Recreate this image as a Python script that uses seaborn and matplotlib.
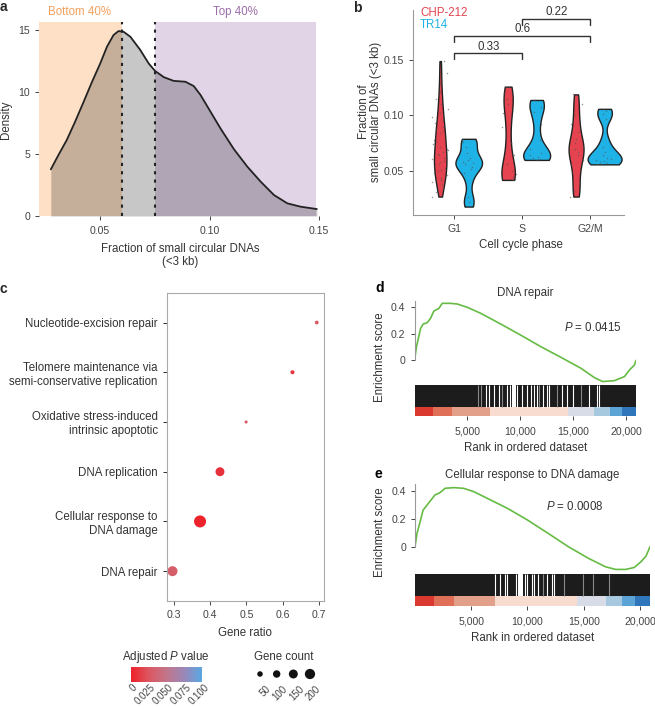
import numpy as np
import pandas as pd
import seaborn as sns
import matplotlib.pyplot as plt
from matplotlib.colors import LinearSegmentedColormap, Normalize
from matplotlib.cm import ScalarMappable

sns.set_theme(style="ticks")
plt.rcParams['font.family'] = ['Liberation Sans', 'DejaVu Sans']
plt.rcParams['mathtext.fontset'] = 'custom'
plt.rcParams['mathtext.it'] = 'Liberation Sans:italic'
plt.rcParams['mathtext.rm'] = 'Liberation Sans'

# ---- panel a: density of small circular DNA fraction
dens_x = [0.0274, 0.0309, 0.0347, 0.0385, 0.0424, 0.0462, 0.0500, 0.0531, 0.0561,
          0.0584, 0.0607, 0.0638, 0.0683, 0.0722, 0.0751, 0.0791, 0.0836, 0.0890,
          0.0928, 0.0959, 0.1005, 0.1050, 0.1112, 0.1173, 0.1234, 0.1295, 0.1356,
          0.1417, 0.1491]
dens_y = [3.76, 4.92, 6.13, 7.6, 9.2, 10.8, 12.3, 13.66, 14.6,
          14.92, 14.86, 14.46, 13.4, 12.3, 11.7, 11.2, 10.9, 10.83,
          10.48, 9.76, 8.4, 7.07, 5.38, 3.98, 2.77, 1.69, 1.02,
          0.75, 0.56]
q_bottom = 0.0601   # 40th percentile
q_top = 0.0751      # 60th percentile
range_lo, range_hi = 0.022, 0.1487

# ---- panel b: violins per cell cycle phase
phases = ["G1", "S", "G2/M"]
lines = ["CHP-212", "TR14"]
chp_g1 = [0.027, 0.031, 0.035, 0.038, 0.040, 0.042, 0.044, 0.046, 0.048, 0.050, 0.051,
          0.053, 0.054, 0.056, 0.058, 0.059, 0.061, 0.062, 0.064, 0.065, 0.067, 0.069,
          0.070, 0.072, 0.074, 0.076, 0.078, 0.080, 0.082, 0.084, 0.086, 0.088, 0.090,
          0.093, 0.096, 0.099, 0.102, 0.106, 0.110, 0.115, 0.121, 0.128, 0.138, 0.149]
tr14_g1 = [0.018, 0.022, 0.027, 0.040, 0.048, 0.052, 0.054, 0.056, 0.057, 0.058, 0.060,
           0.062, 0.066, 0.072, 0.076, 0.078, 0.079]
chp_s = [0.042, 0.043, 0.045, 0.047, 0.050, 0.056, 0.064, 0.075, 0.090, 0.102, 0.110,
         0.115, 0.120, 0.126]
tr14_s = [0.060, 0.061, 0.062, 0.063, 0.064, 0.066, 0.070, 0.078, 0.092, 0.103, 0.108,
          0.112, 0.114]
chp_g2m = [0.027, 0.032, 0.040, 0.048, 0.055, 0.060, 0.064, 0.067, 0.070, 0.072, 0.075,
           0.079, 0.085, 0.092, 0.100, 0.110, 0.119]
tr14_g2m = [0.056, 0.057, 0.058, 0.059, 0.060, 0.061, 0.062, 0.064, 0.067, 0.072, 0.079,
            0.097, 0.101, 0.104, 0.106]
bracket_pairs = [(0, 1), (0, 2), (1, 2)]
bracket_y = [0.156, 0.172, 0.187]
bracket_labels = ["0.33", "0.6", "0.22"]

# ---- panel c: enrichment dot plot
terms = ["Nucleotide-excision repair",
         "Telomere maintenance via\nsemi-conservative replication",
         "Oxidative stress-induced\nintrinsic apoptotic",
         "DNA replication",
         "Cellular response to\nDNA damage",
         "DNA repair"]
gene_ratio = [0.694, 0.627, 0.499, 0.427, 0.372, 0.296]
gene_count = [17, 22, 8, 150, 280, 190]
padj = [0.025, 0.010, 0.028, 0.008, 0.002, 0.032]
legend_counts = [50, 100, 150, 200]
cbar_ticks = [0, 0.025, 0.05, 0.075, 0.1]
cbar_labels = ["0", "0.025", "0.050", "0.075", "0.100"]

# ---- panels d, e: GSEA running enrichment score
d_rank = [0, 189, 568, 820, 1199, 1514, 1830, 2300, 2617, 3405, 4036, 4982, 6244, 8137,
          10029, 11922, 13815, 15707, 16969, 17757, 18861, 19808, 20281, 20754, 20900]
d_es = [0, 0.103, 0.24, 0.274, 0.284, 0.317, 0.372, 0.392, 0.43, 0.43, 0.425, 0.40, 0.355,
        0.274, 0.19, 0.103, 0.023, -0.06, -0.13, -0.16, -0.153, -0.123, -0.073, -0.035, 0]
d_gaps = [6730, 7043, 7486, 7990, 8684, 9000, 9691, 10102, 10575, 10954, 11269, 11522,
          12089, 12468, 12720, 13886, 14422, 14989, 16502, 17195, 17384]
d_faint = [6003, 6228, 8211, 11774, 13413, 15682]
d_wide = [(9156, 9565)]
e_rank = [0, 180, 420, 721, 1081, 1472, 1773, 2223, 2674, 3425, 4326, 5227, 6429, 8232,
          10034, 11837, 13640, 15442, 16944, 17845, 18747, 19498, 20099, 20550, 20900]
e_es = [0, 0.096, 0.168, 0.263, 0.30, 0.34, 0.371, 0.388, 0.419, 0.424, 0.419, 0.395,
        0.347, 0.275, 0.19, 0.096, 0, -0.084, -0.144, -0.163, -0.163, -0.149, -0.108,
        -0.067, 0]
e_gaps = [7131, 7575, 8019, 8226, 8996, 9796, 10000, 10391, 10595, 10977, 11724, 12167,
          12373]
e_faint = [11421, 13261, 14920, 15808, 17283]
e_wide = [(9201, 9591)]
n_genes = 20900
strip_edges = [0, 1700, 3500, 7100, 14450, 16970, 18420, 19590, 20900]
strip_colors = ["#d9392f", "#df6f57", "#e2a08a", "#f7dccf", "#d7dce6", "#a6c9df",
                "#5ba4d5", "#2f77ba"]

W, H = 655, 709
fig = plt.figure(figsize=(W / 100, H / 100), dpi=100)


def px_axes(l, t, r, b):
    return fig.add_axes([l / W, 1 - b / H, (r - l) / W, (b - t) / H])


def px_text(x, y, s, **kw):
    fig.text(x / W, 1 - y / H, s, **kw)


TXT = "#333333"
FS = 8.3
TICK = dict(labelsize=7.6, colors="#444444", length=3, width=0.7)

# ================= a =================
ax = px_axes(39, 22, 321, 216)
ax.axvspan(range_lo, q_bottom, color="#fde0c6", lw=0)
ax.axvspan(q_top, range_hi, color="#e2d4e7", lw=0)
ax.fill_between(dens_x, dens_y, color="black", alpha=0.22, lw=0)
sns.lineplot(x=dens_x, y=dens_y, color="#222222", lw=1.3, ax=ax)
for q in [q_bottom, q_top]:
    ax.axvline(q, color="#222222", ls=(0, (1.5, 2.5)), lw=1.5)
ax.set_xlim(0.022, 0.151)
ax.set_ylim(0, 15.65)
ax.set_xticks([0.05, 0.10, 0.15])
ax.set_xticklabels(["0.05", "0.10", "0.15"])
ax.set_yticks([0, 5, 10, 15])
ax.tick_params(**TICK)
ax.tick_params(axis="x", pad=4)
sns.despine(ax=ax, left=True, bottom=True)
ax.set_xlabel("Fraction of small circular DNAs\n(<3 kb)", fontsize=FS, color=TXT, labelpad=5)
px_text(6, 120, "Density", rotation=90, ha="center", va="center", fontsize=FS, color=TXT)
px_text(80, 12, "Bottom 40%", ha="center", va="center", fontsize=FS, color="#f3a05c")
px_text(235, 12, "Top 40%", ha="center", va="center", fontsize=FS, color="#9b6ea9")

# ================= b =================
groups = [chp_g1, tr14_g1, chp_s, tr14_s, chp_g2m, tr14_g2m]
rows = []
for gi, vals in enumerate(groups):
    for v in vals:
        rows.append((phases[gi // 2], lines[gi % 2], v))
df_b = pd.DataFrame(rows, columns=["phase", "line", "frac"])
dodge_off = {"CHP-212": -0.21, "TR14": 0.21}
df_b["pos"] = df_b["phase"].map(phases.index) + df_b["line"].map(dodge_off)

ax = px_axes(412.7, 10, 624.3, 215)
pal_b = {"CHP-212": "#e4434f", "TR14": "#1fb2e6"}
# each cell line drawn on its own so the two lines keep their own area scaling
for ln, w in zip(lines, [0.22, 0.5]):
    sns.violinplot(data=df_b[df_b["line"] == ln], x="pos", y="frac", native_scale=True,
                   orient="x", color=pal_b[ln], cut=0, inner=None, width=w,
                   bw_adjust=0.6, density_norm="area", linewidth=1, linecolor="#222222",
                   saturation=1, ax=ax)
sns.stripplot(data=df_b, x="pos", y="frac", native_scale=True, orient="x",
              color="#555555", jitter=0.3, size=1.1, alpha=0.6, ax=ax)
for (i, j), yb, lab in zip(bracket_pairs, bracket_y, bracket_labels):
    ax.plot([i, i, j, j], [yb - 0.0055, yb, yb, yb - 0.0055], color="#333333", lw=1)
    ax.text((i + j) / 2, yb + 0.006, lab, ha="center", va="center", fontsize=FS, color=TXT)
ax.set_xlim(-0.615, 2.5)
ax.set_ylim(0.0104, 0.195)
ax.set_xticks([0, 1, 2])
ax.set_xticklabels(phases)
ax.set_yticks([0.05, 0.10, 0.15])
ax.set_yticklabels(["0.05", "0.10", "0.15"])
ax.tick_params(**TICK)
for s in ["left", "bottom"]:
    ax.spines[s].set_color("#999999")
    ax.spines[s].set_linewidth(0.8)
sns.despine(ax=ax)
ax.set_xlabel("")
ax.set_ylabel("")
ax.text(0.035, 0.985, "CHP-212", transform=ax.transAxes, ha="left", va="center",
        fontsize=FS, color="#e4434f")
ax.text(0.035, 0.925, "TR14", transform=ax.transAxes, ha="left", va="center",
        fontsize=FS, color="#1fb2e6")
px_text(521, 245, "Cell cycle phase", ha="center", va="center", fontsize=FS, color=TXT)
px_text(370, 112, "Fraction of\nsmall circular DNAs (<3 kb)", rotation=90, ha="center",
        va="center", fontsize=FS, color=TXT, linespacing=1.1)

# ================= c =================
df_c = pd.DataFrame({"term": terms, "ratio": gene_ratio, "count": gene_count, "padj": padj})
cmap = LinearSegmentedColormap.from_list(
    "padj", ["#ee1f28", "#dc5660", "#c2758a", "#9a88b8", "#58a8e3"])
size_rng = (5, 75)
size_norm = (8, 280)
ax = px_axes(166.7, 292.7, 324, 601)
sns.scatterplot(data=df_c, x="ratio", y="term", hue="padj", size="count", palette=cmap,
                hue_norm=(0, 0.1), sizes=size_rng, size_norm=size_norm, linewidth=0,
                legend=False, ax=ax)
ax.set_xlim(0.28, 0.714)
ax.set_ylim(5.6, -0.6)
ax.set_xticks([0.3, 0.4, 0.5, 0.6, 0.7])
ax.tick_params(**TICK)
ax.tick_params(axis="y", labelsize=FS, colors=TXT)
for s in ax.spines.values():
    s.set_color("#aaaaaa")
    s.set_linewidth(0.8)
ax.set_ylabel("")
ax.set_xlabel("Gene ratio", fontsize=FS, color=TXT, labelpad=5)

# colour bar legend
cax = px_axes(130.5, 667.3, 202.3, 681.7)
cb = fig.colorbar(ScalarMappable(norm=Normalize(0, 0.1), cmap=cmap), cax=cax,
                  orientation="horizontal")
cb.outline.set_visible(False)
cb.set_ticks(cbar_ticks)
cax.tick_params(length=0, labelbottom=False)
for t, lab in zip(cbar_ticks, cbar_labels):
    cax.text(t + 0.002, -0.05, lab, transform=cax.get_xaxis_transform(), rotation=45,
             ha="right", va="top", rotation_mode="anchor", fontsize=7, color="#444444")
px_text(166, 657, "Adjusted $\\it{P}$ value", ha="center", va="center", fontsize=FS, color=TXT)

# gene count legend
lax = px_axes(251.7, 664, 318.3, 684)
sns.scatterplot(x=list(range(len(legend_counts))), y=[0] * len(legend_counts),
                size=legend_counts, sizes=size_rng, size_norm=size_norm, color="#111111",
                linewidth=0, legend=False, ax=lax)
lax.set_xlim(-0.5, 3.5)
lax.set_ylim(-1, 1)
lax.axis("off")
for i, c in enumerate(legend_counts):
    lax.text(i + 0.35, -0.95, str(c), rotation=45, ha="right", va="top",
             rotation_mode="anchor", fontsize=7, color="#444444")
px_text(284, 657, "Gene count", ha="center", va="center", fontsize=FS, color=TXT)

# ================= d, e =================
gsea = [
    dict(rank=d_rank, es=d_es, gaps=d_gaps, faint=d_faint, wide=d_wide,
         box=(414.5, 636), es_top=300.7, es_bot=385, ylo=-0.186, bar_bot=415.7,
         black_frac=0.29, title="DNA repair", title_xy=(525, 293),
         ptxt="$\\it{P}$ = 0.0415", p_xy=(593, 328), ylab_y=357, letter=("d", 288)),
    dict(rank=e_rank, es=e_es, gaps=e_gaps, faint=e_faint, wide=e_wide,
         box=(415, 650), es_top=484, es_bot=574.3, ylo=-0.198, bar_bot=605.7,
         black_frac=0.31, title="Cellular response to DNA damage", title_xy=(532, 475),
         ptxt="$\\it{P}$ = 0.0008", p_xy=(575, 506), ylab_y=532, letter=("e", 474)),
]
for g in gsea:
    l, r = g["box"]
    ax = px_axes(l, g["es_top"], r, g["es_bot"])
    sns.lineplot(x=g["rank"], y=g["es"], color="#66bb44", lw=1.2, ax=ax)
    ax.set_xlim(0, n_genes)
    ax.set_ylim(g["ylo"], 0.45)
    ax.set_yticks([0, 0.2, 0.4])
    ax.set_yticklabels(["0", "0.2", "0.4"])
    ax.set_xticks([])
    ax.tick_params(**TICK)
    sns.despine(ax=ax, bottom=True)
    ax.spines["left"].set_bounds(0, 0.45)
    ax.spines["left"].set_color("#999999")
    ax.spines["left"].set_linewidth(0.8)

    bx = px_axes(l, g["es_bot"], r, g["bar_bot"])
    bf = g["black_frac"]
    bx.fill_between([0, n_genes], bf, 1, color="#1c1c1c", lw=0)
    bx.vlines(g["gaps"], bf, 1, colors="white", lw=0.8)
    bx.vlines(g["faint"], bf, 1, colors="#888888", lw=0.8)
    for a, b in g["wide"]:
        bx.fill_between([a, b], bf, 1, color="white", lw=0)
    for i, col in enumerate(strip_colors):
        bx.fill_between([strip_edges[i], strip_edges[i + 1]], 0, bf, color=col, lw=0)
    bx.set_xlim(0, n_genes)
    bx.set_ylim(0, 1)
    bx.set_yticks([])
    bx.set_xticks([5000, 10000, 15000, 20000])
    bx.set_xticklabels(["5,000", "10,000", "15,000", "20,000"])
    bx.tick_params(**TICK)
    bx.tick_params(axis="x", pad=5)
    sns.despine(ax=bx, left=True, bottom=True)
    bx.set_xlabel("Rank in ordered dataset", fontsize=FS, color=TXT, labelpad=4)

    px_text(*g["title_xy"], g["title"], ha="center", va="center", fontsize=FS, color=TXT)
    px_text(*g["p_xy"], g["ptxt"], ha="center", va="center", fontsize=FS, color=TXT)
    px_text(380, g["ylab_y"], "Enrichment score", rotation=90, ha="center", va="center",
            fontsize=FS, color=TXT)
    px_text(375, g["letter"][1], g["letter"][0], ha="left", va="center", fontsize=10,
            fontweight="bold", color="black")

# panel letters
px_text(0, 7, "a", ha="left", va="center", fontsize=10, fontweight="bold")
px_text(353, 8, "b", ha="left", va="center", fontsize=10, fontweight="bold")
px_text(0, 289, "c", ha="left", va="center", fontsize=10, fontweight="bold")

fig.savefig("out.png", dpi=100)
